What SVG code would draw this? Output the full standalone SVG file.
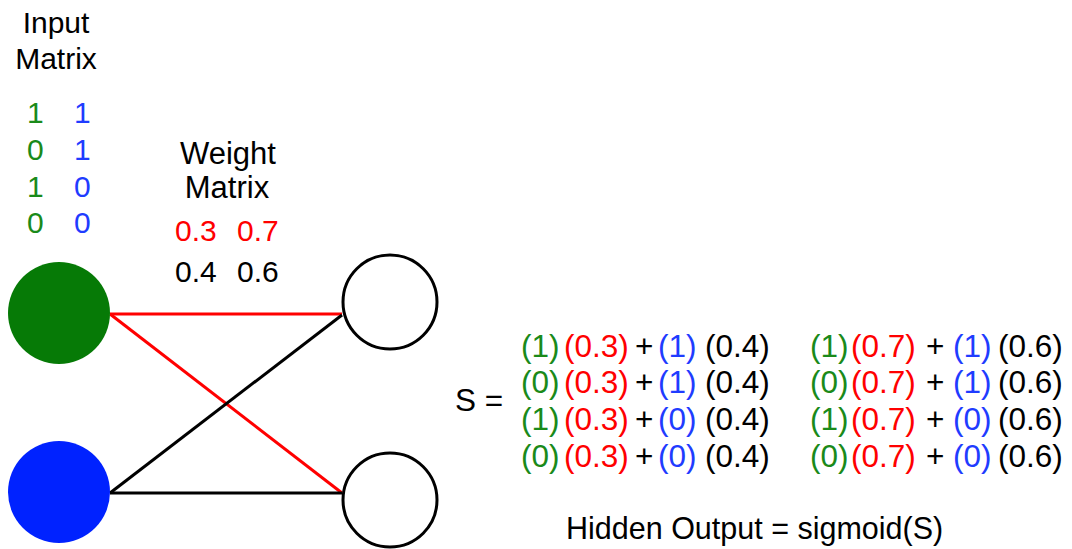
<svg xmlns="http://www.w3.org/2000/svg" width="1072" height="549" viewBox="0 0 1072 549">
<style>
text{font-family:"Liberation Sans",Arial,sans-serif;font-size:30px;fill:#000}
.g{fill:#1a8a1a}.b{fill:#1f3cff}.r{fill:#ff0000}.k{fill:#000}
.c{text-anchor:middle}
.w{font-size:31px}
.eq text{font-size:31.5px}
</style>
<rect width="1072" height="549" fill="#fff"/>
<g id="labels">
<text class="c" x="56" y="33">Input</text>
<text class="c" x="56" y="69">Matrix</text>
<text x="27" y="123" class="g">1</text><text x="74" y="123" class="b">1</text>
<text x="27" y="160" class="g">0</text><text x="74" y="160" class="b">1</text>
<text x="27" y="197" class="g">1</text><text x="74" y="197" class="b">0</text>
<text x="27" y="233" class="g">0</text><text x="74" y="233" class="b">0</text>
<text class="c w" x="228" y="164">Weight</text>
<text class="c w" x="227" y="198">Matrix</text>
<text x="175" y="241" class="r">0.3</text><text x="237" y="241" class="r">0.7</text>
<text x="175" y="282">0.4</text><text x="237" y="282">0.6</text>
</g>
<g id="connectors" fill="none" stroke-width="3">
<line x1="110" y1="314" x2="342" y2="314" stroke="#ff0000"/>
<line x1="110" y1="314" x2="342" y2="493" stroke="#ff0000"/>
<line x1="110" y1="493" x2="342" y2="315" stroke="#000"/>
<line x1="110" y1="493" x2="342" y2="493" stroke="#000"/>
</g>
<g id="input1"><circle cx="59" cy="313" r="51" fill="#067a06"/></g>
<g id="input2"><circle cx="59" cy="492" r="51" fill="#0022ff"/></g>
<g id="hidden1"><circle cx="390" cy="302" r="47" fill="#fff" stroke="#000" stroke-width="3"/></g>
<g id="hidden2"><circle cx="390" cy="500" r="47" fill="#fff" stroke="#000" stroke-width="3"/></g>
<g id="equation" class="eq">
<text x="455" y="411">S =</text>
<text y="357"><tspan x="521" class="g">(1)</tspan><tspan x="564" class="r">(0.3)</tspan><tspan x="635">+</tspan><tspan x="658" class="b">(1)</tspan><tspan x="705">(0.4)</tspan></text>
<text y="393"><tspan x="521" class="g">(0)</tspan><tspan x="564" class="r">(0.3)</tspan><tspan x="635">+</tspan><tspan x="658" class="b">(1)</tspan><tspan x="705">(0.4)</tspan></text>
<text y="430"><tspan x="521" class="g">(1)</tspan><tspan x="564" class="r">(0.3)</tspan><tspan x="635">+</tspan><tspan x="658" class="b">(0)</tspan><tspan x="705">(0.4)</tspan></text>
<text y="467"><tspan x="521" class="g">(0)</tspan><tspan x="564" class="r">(0.3)</tspan><tspan x="635">+</tspan><tspan x="658" class="b">(0)</tspan><tspan x="705">(0.4)</tspan></text>
<text y="357"><tspan x="810" class="g">(1)</tspan><tspan x="851" class="r">(0.7)</tspan><tspan x="926">+</tspan><tspan x="953" class="b">(1)</tspan><tspan x="998">(0.6)</tspan></text>
<text y="393"><tspan x="810" class="g">(0)</tspan><tspan x="851" class="r">(0.7)</tspan><tspan x="926">+</tspan><tspan x="953" class="b">(1)</tspan><tspan x="998">(0.6)</tspan></text>
<text y="430"><tspan x="810" class="g">(1)</tspan><tspan x="851" class="r">(0.7)</tspan><tspan x="926">+</tspan><tspan x="953" class="b">(0)</tspan><tspan x="998">(0.6)</tspan></text>
<text y="467"><tspan x="810" class="g">(0)</tspan><tspan x="851" class="r">(0.7)</tspan><tspan x="926">+</tspan><tspan x="953" class="b">(0)</tspan><tspan x="998">(0.6)</tspan></text>
<text x="566" y="539" style="font-size:30.5px">Hidden Output = sigmoid(S)</text>
</g>
</svg>
